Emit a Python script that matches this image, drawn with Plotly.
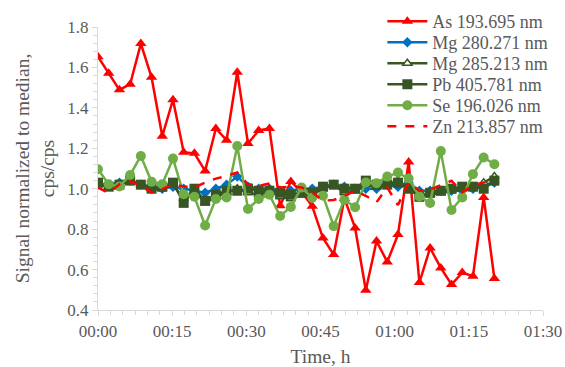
import plotly.graph_objects as go

# Elapsed time of each measurement (hh:mm:ss)
times = ["00:00:00", "00:02:10", "00:04:20", "00:06:30", "00:08:40", "00:10:50", "00:13:00",
         "00:15:10", "00:17:20", "00:19:30", "00:21:40", "00:23:50", "00:26:00", "00:28:10",
         "00:30:20", "00:32:30", "00:34:40", "00:36:50", "00:39:00", "00:41:10", "00:43:20",
         "00:45:30", "00:47:40", "00:49:50", "00:52:00", "00:54:10", "00:56:20", "00:58:30",
         "01:00:40", "01:02:50", "01:05:00", "01:07:10", "01:09:20", "01:11:30", "01:13:40",
         "01:15:50", "01:18:00", "01:20:10"]

as_193 = [1.653, 1.571, 1.489, 1.517, 1.718, 1.551, 1.260, 1.440, 1.181, 1.175, 1.088, 1.298,
          1.240, 1.576, 1.224, 1.288, 1.298, 0.916, 1.036, 0.985, 0.913, 0.756, 0.674, 0.952,
          0.806, 0.498, 0.741, 0.638, 0.773, 1.132, 0.536, 0.707, 0.608, 0.526, 0.585, 0.567,
          0.957, 0.556]
mg_280 = [1.02, 1.02, 1.03, 1.04, 1.02, 1.01, 1.00, 1.01, 1.00, 0.99, 0.98, 1.00, 1.02, 1.06,
          1.01, 1.00, 1.00, 0.99, 0.99, 1.00, 1.00, 1.01, 1.02, 1.01, 1.00, 1.00, 1.00, 1.02,
          1.01, 1.03, 0.99, 0.99, 0.99, 0.99, 0.99, 1.00, 1.02, 1.03]
mg_285 = [1.02, 1.01, 1.02, 1.04, 1.02, 1.00, 1.00, 1.02, 0.95, 0.99, 0.93, 0.96, 0.98, 1.00,
          0.98, 0.97, 0.99, 0.96, 0.95, 0.97, 0.97, 1.00, 1.02, 0.98, 0.99, 1.02, 1.01, 1.02,
          1.04, 1.00, 0.97, 0.97, 0.98, 0.99, 1.00, 1.01, 1.03, 1.06]
pb_405 = [1.03, 1.01, 1.02, 1.04, 1.02, 1.00, 1.01, 1.03, 0.93, 1.00, 0.94, 0.97, 0.99, 0.99,
          1.00, 0.99, 0.99, 0.98, 0.97, 0.98, 0.98, 1.01, 1.02, 1.00, 1.00, 1.04, 1.02, 1.02,
          1.03, 1.00, 0.96, 0.98, 0.99, 1.00, 1.01, 1.01, 1.00, 1.04]
se_196 = [1.096, 1.022, 1.011, 1.068, 1.162, 1.034, 1.022, 1.149, 0.973, 0.960, 0.818, 0.949,
          0.957, 1.211, 0.900, 0.949, 0.970, 0.865, 0.910, 1.006, 0.955, 0.965, 0.815, 0.946,
          0.908, 1.031, 1.027, 1.060, 1.080, 1.050, 0.962, 0.929, 1.186, 0.895, 0.957, 1.072,
          1.154, 1.121]
zn_213 = [1.006, 0.978, 1.022, 1.036, 1.014, 0.982, 0.998, 1.022, 1.011, 1.006, 1.031, 1.050,
          1.063, 1.080, 1.022, 1.014, 1.026, 1.006, 1.011, 1.006, 0.982, 0.941, 0.944, 0.965,
          0.990, 0.965, 0.933, 1.006, 0.919, 1.031, 0.990, 0.995, 1.018, 1.039, 0.982, 1.018,
          1.031, 1.039]

series_names = ["As 193.695 nm", "Mg 280.271 nm", "Mg 285.213 nm", "Pb 405.781 nm",
                "Se 196.026 nm", "Zn 213.857 nm"]
x_ticks = ["00:00", "00:15", "00:30", "00:45", "01:00", "01:15", "01:30"]

BASE = "2000-01-01 "
xs = [BASE + t for t in times]

RED = "#FF0000"
BLUE = "#0070C0"
DKGREEN = "#375623"
LTGREEN = "#70AD47"
GRAY = "#595959"
AXIS = "#D9D9D9"
FONT = "Liberation Serif"

W, H = 565, 367
ML, MR, MT, MB = 98, 22, 27, 57
PLOT_H = H - MT - MB

legend_keys = ["legend", "legend2", "legend3", "legend4", "legend5", "legend6"]

fig = go.Figure()
fig.add_trace(go.Scatter(x=xs, y=as_193, name=series_names[0], mode="lines+markers",
                         legend=legend_keys[0],
                         line=dict(color=RED, width=2.5),
                         marker=dict(symbol="triangle-up", size=10, color=RED)))
fig.add_trace(go.Scatter(x=xs, y=mg_280, name=series_names[1], mode="lines+markers",
                         legend=legend_keys[1],
                         line=dict(color=BLUE, width=2.5),
                         marker=dict(symbol="diamond", size=8, color=BLUE)))
fig.add_trace(go.Scatter(x=xs, y=mg_285, name=series_names[2], mode="lines+markers",
                         legend=legend_keys[2],
                         line=dict(color=DKGREEN, width=2.5),
                         marker=dict(symbol="triangle-up", size=8, color="white",
                                     line=dict(color=DKGREEN, width=1.5))))
fig.add_trace(go.Scatter(x=xs, y=pb_405, name=series_names[3], mode="lines+markers",
                         legend=legend_keys[3],
                         line=dict(color=DKGREEN, width=2.5),
                         marker=dict(symbol="square", size=10, color=DKGREEN)))
fig.add_trace(go.Scatter(x=xs, y=se_196, name=series_names[4], mode="lines+markers",
                         legend=legend_keys[4],
                         line=dict(color=LTGREEN, width=2.5),
                         marker=dict(symbol="circle", size=10, color=LTGREEN)))
fig.add_trace(go.Scatter(x=xs, y=zn_213, name=series_names[5], mode="lines",
                         legend=legend_keys[5],
                         line=dict(color=RED, width=2.5, dash="dash")))

# one single-entry legend per series, stacked 21 px apart at the top right
legend_layout = {}
for i, key in enumerate(legend_keys):
    y_px = 21.5 + 21 * i
    legend_layout[key] = dict(
        x=0.639, y=(H - MB - y_px) / PLOT_H, xanchor="left", yanchor="middle",
        bgcolor="rgba(0,0,0,0)", borderwidth=0,
        font=dict(family=FONT, size=18, color=GRAY),
        itemwidth=40,
    )

fig.update_layout(
    width=W, height=H,
    margin=dict(l=ML, r=MR, t=MT, b=MB, autoexpand=False),
    paper_bgcolor="white", plot_bgcolor="white",
    font=dict(family=FONT, size=17, color=GRAY),
    showlegend=True,
    xaxis=dict(
        type="date", automargin=False,
        range=[BASE + "00:00:00", BASE + "01:30:00"],
        tickvals=[BASE + t + ":00" for t in x_ticks],
        ticktext=x_ticks,
        showline=True, linecolor=AXIS, linewidth=1.3,
        ticks="outside", ticklen=5, tickcolor=AXIS,
        minor=dict(ticks="outside", ticklen=4, tickcolor=AXIS, dtick=150000,
                   showgrid=False),
        showgrid=False, zeroline=False,
        tickfont=dict(family=FONT, size=17, color=GRAY),
        title=dict(text="Time, h", font=dict(family=FONT, size=19.5, color=GRAY), standoff=9),
    ),
    yaxis=dict(
        automargin=False,
        range=[0.4, 1.8], dtick=0.2, tick0=0.4, tickformat=".1f",
        showline=True, linecolor=AXIS, linewidth=1.3,
        ticks="outside", ticklen=5, tickcolor=AXIS,
        minor=dict(ticks="outside", ticklen=4, tickcolor=AXIS, dtick=0.04,
                   showgrid=False),
        showgrid=False, zeroline=False,
        tickfont=dict(family=FONT, size=17, color=GRAY),
        title=dict(text="Signal normalized to median,<br>cps/cps",
                   font=dict(family=FONT, size=19.5, color=GRAY), standoff=7),
    ),
    **legend_layout,
)

fig.write_html("out.html", config={"displayModeBar": False},
               post_script="document.body.style.margin='0';document.body.style.overflow='hidden';")
